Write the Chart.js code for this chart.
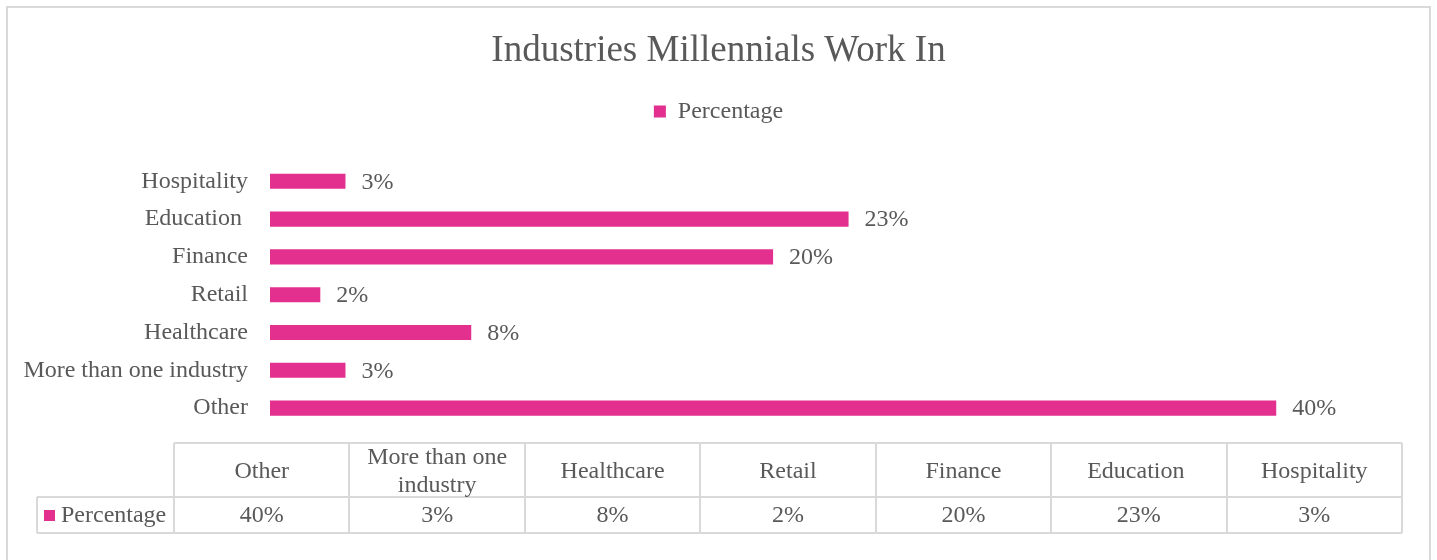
<!DOCTYPE html>
<html>
<head>
<meta charset="utf-8">
<title>Industries Millennials Work In</title>
<script src="https://cdn.jsdelivr.net/npm/chart.js@4/dist/chart.umd.min.js"></script>
<style>
  html, body { margin: 0; padding: 0; background: #fff; }
  #wrap { width: 1437px; height: 560px; position: relative; }
</style>
</head>
<body>
<div id="wrap"><canvas id="industryChart"></canvas></div>
<script>
// Categories in sheet order (first one is drawn at the bottom)
const categories = ['Other', 'More than one industry', 'Healthcare', 'Retail', 'Finance', 'Education ', 'Hospitality'];
// Header text for the data table under the chart
const tableHeaders = [['Other'], ['More than one', 'industry'], ['Healthcare'], ['Retail'], ['Finance'], ['Education '], ['Hospitality']];
const seriesName = 'Percentage';
const percentages = [40, 3, 8, 2, 20, 23, 3];

const PINK = '#E3308F';
const TEXT = '#595959';
const LINE = '#D9D9D9';
const FONT = "'Liberation Serif', 'Times New Roman', serif";

// Percent labels to the right of each bar
const barLabels = {
    id: 'barLabels',
    afterDatasetsDraw(chart) {
        const ctx = chart.ctx;
        const meta = chart.getDatasetMeta(0);
        ctx.save();
        ctx.font = '24px ' + FONT;
        ctx.fillStyle = TEXT;
        ctx.textAlign = 'left';
        ctx.textBaseline = 'middle';
        meta.data.forEach((bar, i) => {
            ctx.fillText(percentages[i] + '%', bar.x + 16, bar.y + 1);
        });
        ctx.restore();
    }
};

// Outer frame plus the data table below the plot
const dataTable = {
    id: 'dataTable',
    beforeDraw(chart) {
        const ctx = chart.ctx;
        ctx.save();
        ctx.strokeStyle = LINE;
        ctx.lineWidth = 2;
        ctx.strokeRect(7, 7, 1423, 580);
        ctx.restore();
    },
    afterDraw(chart) {
        const ctx = chart.ctx;
        const area = chart.chartArea;
        const left = 174, legendLeft = 37;
        const top = 443, mid = 497, bottom = 533;
        const colW = (area.right - left) / categories.length;

        ctx.save();
        ctx.strokeStyle = LINE;
        ctx.lineWidth = 2;
        ctx.beginPath();
        // horizontal rules
        ctx.moveTo(left, top); ctx.lineTo(area.right, top);
        ctx.moveTo(legendLeft, mid); ctx.lineTo(area.right, mid);
        ctx.moveTo(legendLeft, bottom); ctx.lineTo(area.right, bottom);
        // vertical rules
        ctx.moveTo(legendLeft, mid); ctx.lineTo(legendLeft, bottom);
        for (let i = 0; i <= categories.length; i++) {
            const x = Math.round(left + i * colW);
            ctx.moveTo(x, top); ctx.lineTo(x, bottom);
        }
        ctx.stroke();

        ctx.font = '24px ' + FONT;
        ctx.fillStyle = TEXT;
        ctx.textAlign = 'center';
        ctx.textBaseline = 'middle';
        tableHeaders.forEach((lines, i) => {
            const cx = left + (i + 0.5) * colW;
            const cy = (top + mid) / 2 + 2;
            const lh = 28;
            lines.forEach((line, j) => {
                ctx.fillText(line, cx, cy + (j - (lines.length - 1) / 2) * lh);
            });
            ctx.fillText(percentages[i] + '%', cx, (mid + bottom) / 2 + 1);
        });

        // series key in the first cell
        ctx.fillStyle = PINK;
        ctx.fillRect(44, 510, 11, 11);
        ctx.fillStyle = TEXT;
        ctx.textAlign = 'left';
        ctx.fillText(seriesName, 61, (mid + bottom) / 2 + 1);
        ctx.restore();
    }
};

new Chart(document.getElementById('industryChart'), {
    type: 'bar',
    data: {
        labels: categories,
        datasets: [{
            label: seriesName,
            data: percentages,
            backgroundColor: PINK,
            borderWidth: 0,
            categoryPercentage: 1,
            barPercentage: 0.4
        }]
    },
    options: {
        indexAxis: 'y',
        responsive: true,
        maintainAspectRatio: false,
        animation: false,
        layout: { padding: { left: 0, right: 0, top: 0, bottom: 133 } },
        plugins: {
            title: {
                display: true,
                text: 'Industries Millennials Work In',
                color: TEXT,
                font: { family: FONT, size: 37, weight: 'normal' },
                padding: { top: 29, bottom: 16 }
            },
            legend: {
                display: true,
                position: 'top',
                labels: {
                    color: TEXT,
                    font: { family: FONT, size: 24 },
                    boxWidth: 12,
                    boxHeight: 12,
                    padding: 10
                }
            },
            tooltip: { enabled: false }
        },
        scales: {
            // value axis is hidden; it only reserves the gap under the legend
            x: {
                position: 'top',
                min: 0,
                max: 45,
                grid: { display: false, drawTicks: false },
                border: { display: false },
                ticks: { display: false },
                afterFit(scale) { scale.height = 29; }
            },
            y: {
                reverse: true,
                grid: { display: false, drawTicks: false },
                border: { display: false },
                ticks: {
                    color: TEXT,
                    font: { family: FONT, size: 24 },
                    padding: 22
                },
                afterFit(scale) { scale.width = 270; }
            },
            // empty right-hand axis keeps the plot clear of the frame
            yRight: {
                axis: 'y',
                type: 'category',
                position: 'right',
                grid: { display: false, drawTicks: false },
                border: { display: false },
                ticks: { display: false },
                afterFit(scale) { scale.width = 35; }
            }
        }
    },
    plugins: [barLabels, dataTable]
});
</script>
</body>
</html>
